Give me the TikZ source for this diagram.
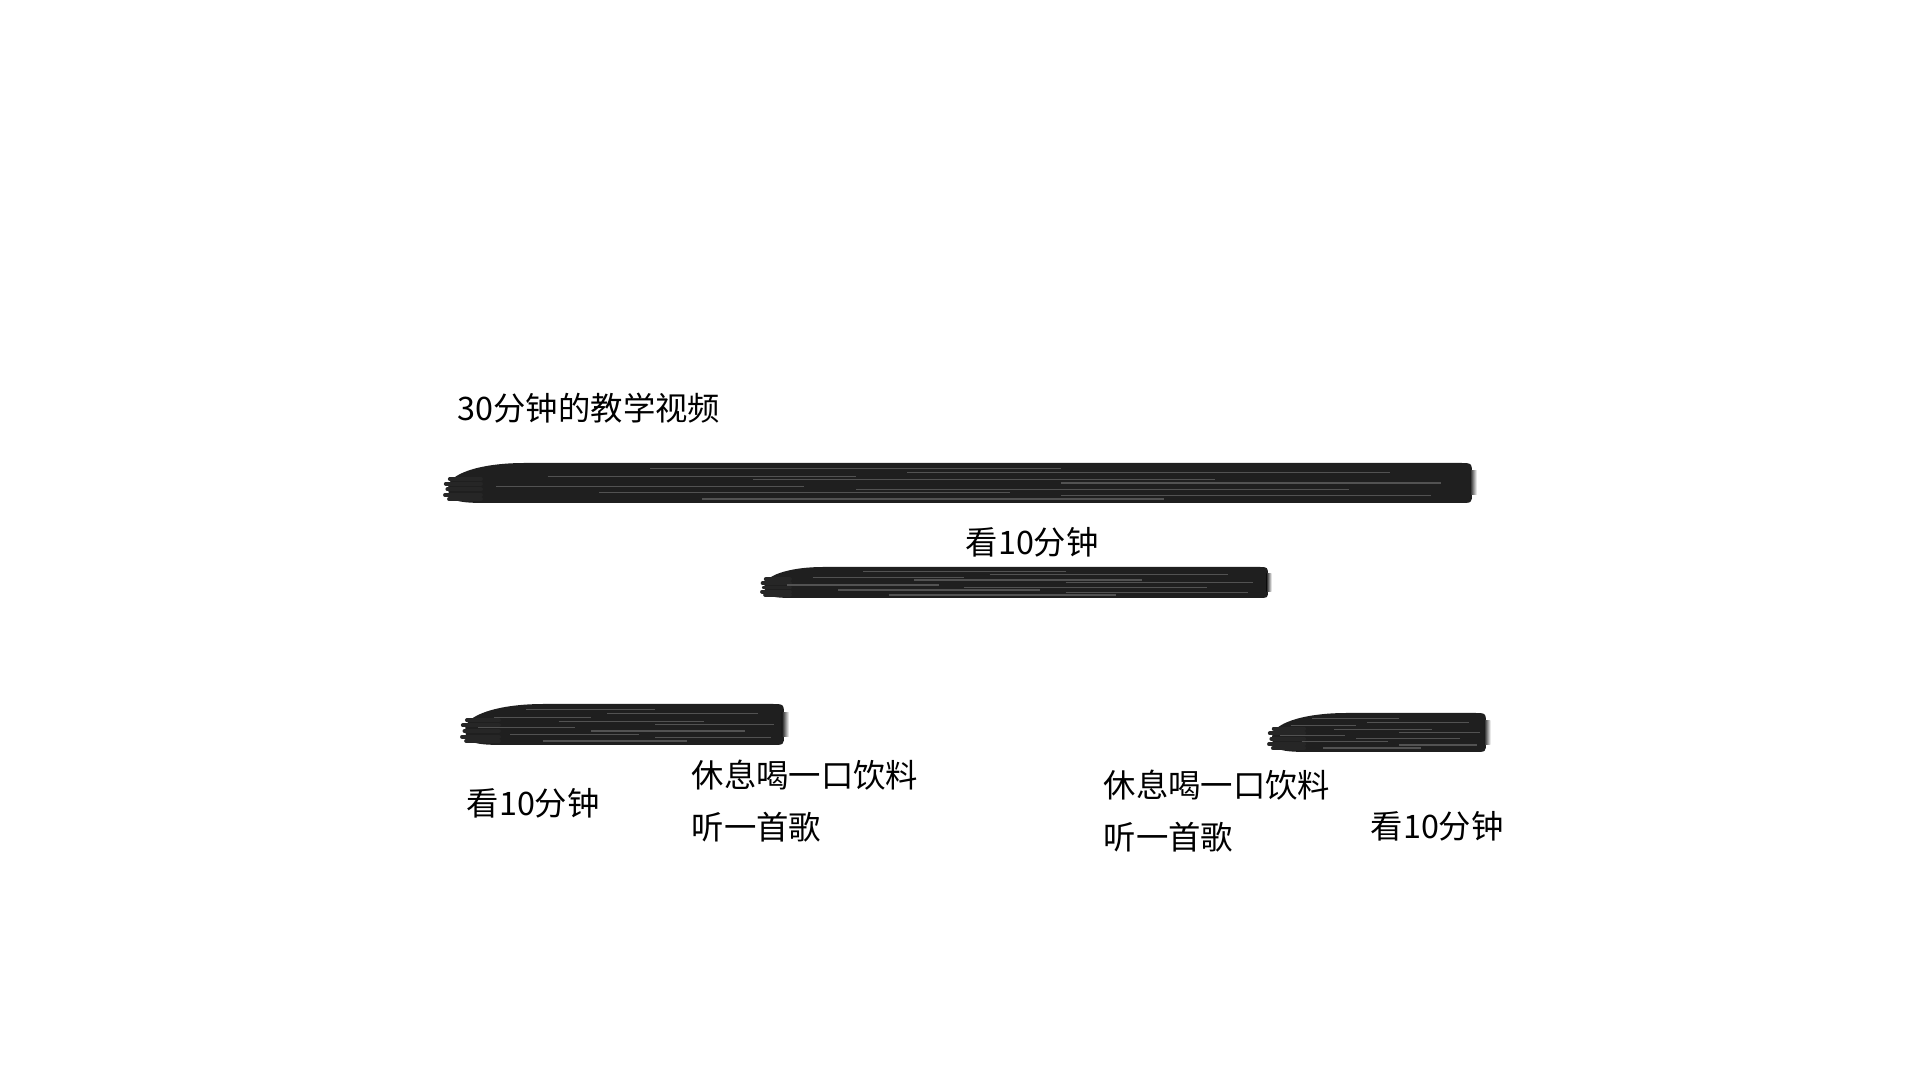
\documentclass[tikz,border=0pt]{standalone}
\usepackage{fontspec}
\setmainfont{Noto Sans CJK SC}
\usetikzlibrary{positioning}
\tikzset{
brush/.style = {
     fill=black!88,
     draw=none
   },
brush streak/.style = {
     draw=black!68,
     line width=0.35pt
   },
brush hair/.style = {
     draw=black!85,
     line width=1.1pt,
     line cap=round
   },
step label/.style = {
     font=\fontsize{9.2}{15}\selectfont,
     inner sep=0pt,
     anchor=west,
     align=left
   }
}
\def\BrushStroke#1#2#3#4{%
  \pgfmathsetmacro\h{#4-#3}
  \fill[brush] ({#1+2*\h},#3) -- ({#2-0.3*\h},#3)
     .. controls (#2,#3) .. (#2,{#3+0.3*\h})
     -- (#2,{#4-0.25*\h}) .. controls (#2,#4) .. ({#2-0.3*\h},#4)
     -- ({#1+\h},#4) .. controls ({#1+0.15*\h},#4) and ({#1+0.08*\h},{#4-0.1*\h}) .. ({#1+0.08*\h},{#3+0.6*\h})
     .. controls ({#1+0.08*\h},{#3+0.3*\h}) and ({#1+0.8*\h},#3) .. ({#1+2*\h},#3) -- cycle;
  % loose hairs at the start of the stroke
  \foreach \f/\d in {0.4/0.12, 0.52/0.02, 0.66/0.06, 0.8/0.0, 0.9/0.1} {
     \draw[brush hair] ({#1+\d*\h},{#3+\f*\h}) -- ({#1+0.9*\h},{#3+\f*\h});
  }
  % soft end
  \shade[left color=black!88, right color=white] ({#2-0.05*\h},{#3+0.2*\h}) rectangle ({#2+0.12*\h},{#4-0.2*\h});
  \foreach \f/\a/\b in {0.14/0.2/0.6, 0.24/0.45/0.92, 0.33/0.1/0.4, 0.42/0.3/0.75, 0.5/0.6/0.97,
                        0.58/0.05/0.35, 0.66/0.4/0.88, 0.74/0.15/0.55, 0.82/0.6/0.96, 0.9/0.25/0.7} {
     \draw[brush streak] ({#1+\a*(#2-#1)},{#3+\f*\h}) -- ({#1+\b*(#2-#1)},{#3+\f*\h});
  }
}
\begin{document}
\begin{tikzpicture}[x=0.01cm,y=-0.01cm]
  \useasboundingbox[fill=white] (0,0) rectangle (1920,1080);
  % strokes: left, right, top, bottom
  \BrushStroke{445}{1472}{463}{503}
  \BrushStroke{762}{1268}{567}{598}
  \BrushStroke{462}{784}{704}{745}
  \BrushStroke{1269}{1486}{713}{752}
  % labels
  \node[step label] (whole) at (457,408) {30分钟的教学视频};
  \node[step label] (watch mid) at (965,542) {看10分钟};
  \node[step label] (watch left) at (466,803) {看10分钟};
  \node[step label] (pause left) at (691,801) {休息喝一口饮料\\听一首歌};
  \node[step label] (pause right) at (1103,811) {休息喝一口饮料\\听一首歌};
  \node[step label] (watch right) at (1370,826) {看10分钟};
\end{tikzpicture}
\end{document}
